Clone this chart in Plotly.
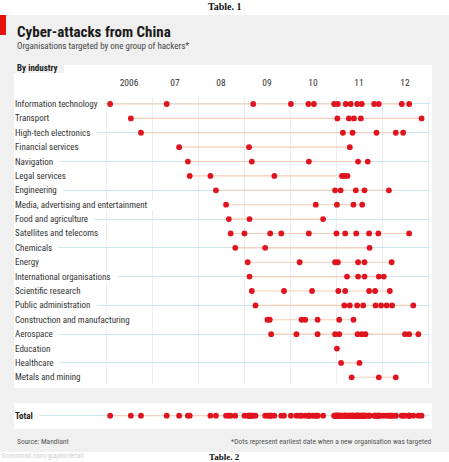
import plotly.graph_objects as go

W, H = 449, 462

industries = [
    "Information technology", "Transport", "High-tech electronics", "Financial services",
    "Navigation", "Legal services", "Engineering", "Media, advertising and entertainment",
    "Food and agriculture", "Satellites and telecoms", "Chemicals", "Energy",
    "International organisations", "Scientific research", "Public administration",
    "Construction and manufacturing", "Aerospace", "Education", "Healthcare", "Metals and mining",
]

# dates (decimal years) when a new organisation was first targeted
info_tech = [2006.09, 2007.32, 2009.20, 2010.02, 2010.40, 2010.52, 2010.96, 2011.04, 2011.21,
             2011.32, 2011.46, 2011.56, 2011.83, 2011.93, 2012.43, 2012.59]
transport = [2006.54, 2011.03, 2011.28, 2011.39, 2011.54, 2012.86]
high_tech = [2006.76, 2011.15, 2011.36, 2011.88, 2012.30, 2012.46]
financial = [2007.59, 2009.11, 2011.30]
navigation = [2007.78, 2009.17, 2010.41, 2011.48, 2011.69]
legal = [2007.82, 2008.27, 2009.66, 2011.13, 2011.19, 2011.25]
engineering = [2008.39, 2010.98, 2011.10, 2011.43, 2011.62, 2012.15]
media = [2008.61, 2010.56, 2011.02, 2011.38, 2011.57]
food = [2008.67, 2009.12, 2010.72]
satellites = [2008.71, 2009.01, 2009.57, 2009.81, 2010.41, 2011.01, 2011.20, 2011.44,
              2011.72, 2011.92, 2012.59]
chemicals = [2008.81, 2009.46, 2011.73]
energy = [2009.08, 2010.21, 2010.98, 2011.04, 2011.48, 2011.62, 2012.21]
intl_orgs = [2009.12, 2011.24, 2011.48, 2011.62, 2011.93, 2012.04]
scientific = [2009.17, 2009.87, 2010.48, 2011.05, 2011.20, 2011.72, 2011.85, 2012.17]
public_admin = [2009.25, 2011.18, 2011.30, 2011.46, 2011.59, 2011.86, 2011.98, 2012.10,
                2012.22, 2012.68]
construction = [2009.51, 2009.56, 2010.25, 2010.33, 2010.60, 2011.07, 2011.38]
aerospace = [2009.59, 2010.14, 2010.60, 2010.98, 2011.07, 2011.47, 2011.56, 2011.64,
             2012.50, 2012.59, 2012.79]
education = [2011.02]
healthcare = [2011.11, 2011.51]
metals = [2011.34, 2011.93, 2012.30]

industry_dates = [info_tech, transport, high_tech, financial, navigation, legal, engineering,
                  media, food, satellites, chemicals, energy, intl_orgs, scientific,
                  public_admin, construction, aerospace, education, healthcare, metals]

year_ticks = [2006.5, 2007.5, 2008.5, 2009.5, 2010.5, 2011.5, 2012.5]
year_labels = ["2006", "07", "08", "09", "10", "11", "12"]
year_bounds = [2006, 2007, 2008, 2009, 2010, 2011, 2012, 2013]

FONT = "Liberation Sans Narrow, Roboto Condensed, Roboto, sans-serif"
SERIF = "Liberation Serif, DejaVu Serif, serif"
RED = "#e0141e"
ORANGE = "#f8cdb8"
BLUE = "#cbe7ef"

def px(x):
    return x / W

def py(y):
    return 1 - y / H

fig = go.Figure()

for name, dates in zip(industries, industry_dates):
    if len(dates) > 1:
        fig.add_trace(go.Scatter(x=[min(dates), max(dates)], y=[name, name], mode="lines",
                                 line=dict(color=ORANGE, width=1.1), hoverinfo="skip",
                                 showlegend=False, xaxis="x", yaxis="y"))
    fig.add_trace(go.Scatter(x=dates, y=[name] * len(dates), mode="markers",
                             marker=dict(color=RED, size=5.8), showlegend=False,
                             xaxis="x", yaxis="y"))

total = sorted(d for ds in industry_dates for d in ds)
fig.add_trace(go.Scatter(x=[total[0], total[-1]], y=["Total", "Total"], mode="lines",
                         line=dict(color=ORANGE, width=1.1), hoverinfo="skip",
                         showlegend=False, xaxis="x2", yaxis="y2"))
fig.add_trace(go.Scatter(x=total, y=["Total"] * len(total), mode="markers",
                         marker=dict(color=RED, size=5.8), showlegend=False,
                         xaxis="x2", yaxis="y2"))

xr = [2006 + (16 - 106) / 46, 2006 + (430 - 106) / 46]
n = len(industries)
row0, rowN = 104.0, 377.3
step = (rowN - row0) / (n - 1)

fig.update_layout(
    width=W, height=H, margin=dict(l=0, r=0, t=0, b=0),
    paper_bgcolor="white", plot_bgcolor="rgba(0,0,0,0)",
    font=dict(family=FONT, color="#333", size=9),
    xaxis=dict(domain=[px(16), px(430)], range=xr, side="top", anchor="y",
               tickmode="array", tickvals=year_ticks, ticktext=year_labels,
               showgrid=False, zeroline=False, showline=False, ticks="",
               ticklabelstandoff=8, tickfont=dict(size=9.5, color="#333"),
               minor=dict(tickmode="array", tickvals=year_bounds, showgrid=True,
                          gridcolor="#eeeeee", gridwidth=1, ticks=""),
               fixedrange=True),
    yaxis=dict(domain=[py(rowN + step / 2), py(row0 - step / 2)], type="category",
               categoryarray=industries, range=[n - 0.5, -0.5], showticklabels=False,
               showgrid=True, gridcolor=BLUE, gridwidth=1, zeroline=False, showline=False,
               ticks="", fixedrange=True),
    xaxis2=dict(domain=[px(16), px(430)], range=xr, anchor="y2", showticklabels=False,
                showgrid=False, zeroline=False, showline=False, ticks="", fixedrange=True),
    yaxis2=dict(domain=[py(415.7 + step / 2), py(415.7 - step / 2)], type="category",
                categoryarray=["Total"], range=[0.5, -0.5], showticklabels=False,
                showgrid=True, gridcolor=BLUE, gridwidth=1, zeroline=False, showline=False,
                ticks="", fixedrange=True),
)

shapes = [
    dict(type="rect", xref="paper", yref="paper", x0=0, x1=1, y0=py(452), y1=py(15),
         fillcolor="#f0f0f0", line=dict(width=0), layer="below"),
    dict(type="rect", xref="paper", yref="paper", x0=0, x1=px(6), y0=py(35), y1=py(15),
         fillcolor="#e3120b", line=dict(width=0), layer="below"),
    dict(type="rect", xref="paper", yref="paper", x0=px(14), x1=px(432), y0=py(388), y1=py(73),
         fillcolor="white", line=dict(width=0), layer="below"),
    dict(type="rect", xref="paper", yref="paper", x0=px(64), x1=px(432), y0=py(74), y1=py(65),
         fillcolor="white", line=dict(width=0), layer="below"),
    dict(type="rect", xref="paper", yref="paper", x0=px(14), x1=px(432), y0=py(429), y1=py(403),
         fillcolor="white", line=dict(width=0), layer="below"),
]
fig.update_layout(shapes=shapes)

NB = "\u00a0\u00a0\u00a0"
ann = []
for name in industries:
    ann.append(dict(text=name + NB, x=px(15), xref="paper", y=name, yref="y",
                    xanchor="left", yanchor="middle", showarrow=False, bgcolor="white",
                    borderpad=0, borderwidth=0, font=dict(size=9, color="#333")))
ann.append(dict(text="<b>Total</b>" + NB, x=px(15), xref="paper", y="Total", yref="y2",
                xanchor="left", yanchor="middle", showarrow=False, bgcolor="white",
                borderpad=0, borderwidth=0, font=dict(size=9, color="#222")))

def txt(t, x, y, size, color="#222", anchor="left", family=FONT):
    ann.append(dict(text=t, x=px(x), y=py(y), xref="paper", yref="paper", xanchor=anchor,
                    yanchor="middle", showarrow=False, font=dict(size=size, color=color,
                                                                 family=family)))

txt("<b>Table. 1</b>", 224.5, 6, 10, "#111", "center", SERIF)
txt("<b>Cyber-attacks from China</b>", 15, 32, 15, "#1a1a1a")
txt("Organisations targeted by one group of hackers*", 15, 46, 9, "#444")
txt("<b>By industry</b>", 15, 68, 9, "#222")
txt("Source: Mandiant", 15, 441, 7.5, "#555")
txt("*Dots represent earliest date when a new organisation was targeted", 433, 441, 7.5,
    "#555", "right")
txt("Economist.com/graphicdetail", 0, 456, 7, "#cfcfcf")
txt("<b>Table. 2</b>", 224.5, 456.5, 9, "#111", "center", SERIF)
fig.update_layout(annotations=ann)

fig.write_html("out.html")
